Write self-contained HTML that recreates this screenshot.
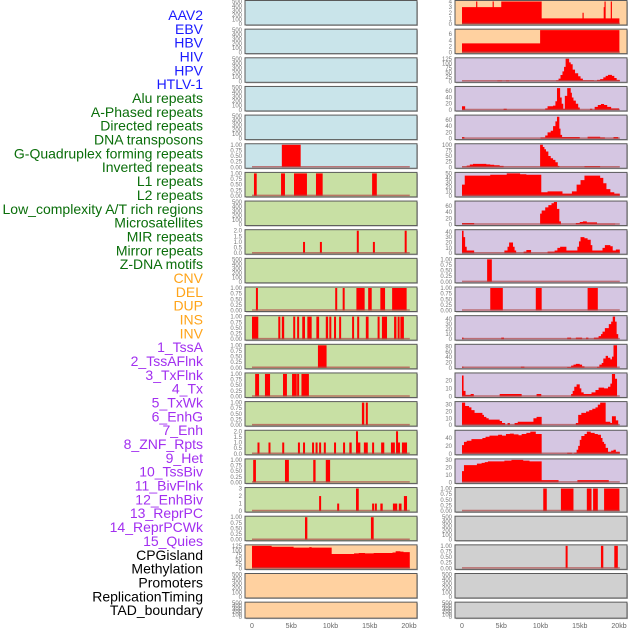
<!DOCTYPE html>
<html><head><meta charset="utf-8">
<style>
html,body{margin:0;padding:0;background:#fff;width:630px;height:630px;overflow:hidden}
svg{display:block;font-family:"Liberation Sans",sans-serif}
</style></head>
<body>
<svg id="chart" width="630" height="630" viewBox="0 0 630 630"></svg>
<script>
// ---------- data ----------
const trackLabels = ["AAV2","EBV","HBV","HIV","HPV","HTLV-1","Alu repeats","A-Phased repeats","Directed repeats","DNA transposons","G-Quadruplex forming repeats","Inverted repeats","L1 repeats","L2 repeats","Low_complexity A/T rich regions","Microsatellites","MIR repeats","Mirror repeats","Z-DNA motifs","CNV","DEL","DUP","INS","INV","1_TssA","2_TssAFlnk","3_TxFlnk","4_Tx","5_TxWk","6_EnhG","7_Enh","8_ZNF_Rpts","9_Het","10_TssBiv","11_BivFlnk","12_EnhBiv","13_ReprPC","14_ReprPCWk","15_Quies","CPGisland","Methylation","Promoters","ReplicationTiming","TAD_boundary"];
const trackGroups = [0,0,0,0,0,0,1,1,1,1,1,1,1,1,1,1,1,1,1,2,2,2,2,2,3,3,3,3,3,3,3,3,3,3,3,3,3,3,3,4,4,4,4,4];
const groupColors = ["#1a1aff","#0a6e0a","#ffa41a","#a22ff0","#000000"];

const xTicks = [0,5,10,15,20];
const xTickLabels = ["0","5kb","10kb","15kb","20kb"];

const T500 = [0,100,200,300,400,500];
const T1 = [0,0.25,0.5,0.75,1], T1L = ["0.00","0.25","0.50","0.75","1.00"];
const T2 = [0,0.5,1,1.5,2], T2L = ["0.0","0.5","1.0","1.5","2.0"];
const T3 = [0,1,2,3], T4 = [0,1,2,3,4], T6 = [0,2,4,6];
const T125 = [0,25,50,75,100,125], T60 = [0,20,40,60], T40a = [0,10,20,30,40];
const T50 = [0,10,20,30,40,50], T80 = [0,20,40,60,80], T20 = [0,10,20], T30 = [0,10,20,30], T40b = [0,20,40];

// bar segments: [startKb, endKb, value]
const segL6 = [[3.8,6.2,1]];
const segL7 = [[0.25,0.6,1],[3.7,4.2,1],[5.35,7.0,1],[8.15,9.0,1],[15.3,15.9,1]];
const segL9 = [[6.5,6.65,1],[8.65,8.8,1],[13.35,13.55,2],[15.4,15.55,1],[19.45,19.6,2]];
const segL11 = [[0.5,0.7,1],[10.6,10.75,1],[11.55,11.75,1],[13.3,14.35,1],[14.8,15.25,1],[16.35,16.95,1],[17.85,19.7,1]];
const segL12 = [[0,0.8,1],[3.35,3.55,1],[3.8,4.1,1],[5.25,5.5,1],[5.75,6.0,1],[6.4,6.75,1],[7.05,7.6,1],[8.2,8.55,1],[9.4,9.7,1],[9.85,10.05,1],[10.45,10.65,1],[11.1,11.35,1],[12.75,12.95,1],[13.4,13.65,1],[14.5,14.85,1],[16.0,16.25,1],[16.55,17.2,1],[18.1,18.4,1],[18.55,18.7,1],[18.9,19.35,1]];
const segL13 = [[8.4,9.5,1]];
const segL14 = [[0.4,0.9,1],[1.65,2.3,1],[3.95,4.45,1],[5.1,5.7,1],[5.75,6.0,1],[6.3,7.25,1]];
const segL15 = [[14.0,14.3,1],[14.5,14.75,1]];
const segL16 = [[0.7,0.95,1],[2.1,2.35,1],[3.85,4.1,1],[5.85,6.05,1],[6.5,6.75,1],[7.65,7.9,1],[8.1,8.35,1],[8.55,8.8,1],[9.15,9.4,1],[10.45,10.65,1],[11.6,11.85,1],[12.4,12.7,1],[13.25,13.45,2],[13.45,13.8,1],[14.25,14.75,1],[15.3,15.5,1],[16.45,16.85,1],[17.7,18.2,1],[18.35,18.5,2],[18.5,18.85,1],[19.1,19.75,1]];
const segL17 = [[0.15,0.5,1],[4.2,4.7,1],[7.8,8.1,1],[9.4,9.95,1]];
const segL18 = [[8.55,8.75,2],[10.85,11.05,1],[13.25,13.6,3],[15.3,15.5,1],[15.65,15.9,1],[16.35,16.65,1],[17.95,18.5,1],[18.7,19.05,1],[19.35,19.75,2]];
const segL19 = [[6.75,7.05,1],[15.15,15.5,1]];
const segR10 = [[3.2,3.8,1]];
const segR11 = [[3.6,5.2,1],[9.4,10.15,1],[16.0,17.3,1]];
const segR18 = [[10.35,10.8,1],[12.6,14.2,1],[15.9,16.5,1],[16.7,17.3,1],[18.1,20.05,1]];
const segR20 = [[13.2,13.45,1],[17.7,18.0,1],[19.4,19.85,1]];

// step profiles: [kb, value] constant until next kb
const stepL20 = [[0,125],[2.5,120],[5.3,115],[7.3,118],[7.6,115],[10.15,80],[13.0,83],[13.6,85],[14.4,83],[15.5,85],[17.9,88],[18.3,95],[18.9,93],[19.3,90],[20.1,0]];
const stepR1 = [[0,3],[1.8,4],[1.95,3],[3.9,4],[4.05,3],[5.0,4],[10.15,1],[15.35,2],[15.5,1],[18.05,3],[18.15,4],[18.3,1],[18.95,4],[19.1,1],[20.05,0]];
const stepR2 = [[0,3],[9.95,7.3],[20.05,0]];
const stepR3 = [[0,0],[4.5,4],[5.1,0],[5.6,4],[6.0,0],[12.0,5],[12.3,15],[12.55,35],[12.8,55],[13.0,80],[13.2,125],[13.65,105],[13.85,95],[14.1,65],[14.4,45],[14.8,28],[15.1,15],[15.4,5],[16.8,2],[17.2,8],[17.6,12],[18.0,22],[18.3,30],[18.6,36],[19.1,30],[19.4,18],[19.7,8],[20.1,0]];
const stepR4 = [[0,12],[0.4,0],[5.3,4],[5.7,0],[10.6,5],[10.9,12],[11.6,14],[11.9,28],[12.1,70],[12.5,40],[12.7,20],[12.9,4],[13.1,45],[13.4,70],[13.85,55],[14.0,40],[14.2,30],[14.5,20],[14.8,8],[15.0,0],[16.3,4],[16.6,0],[16.9,10],[17.3,16],[17.7,19],[18.1,16],[18.5,10],[19.0,5],[20.0,0]];
const stepR5 = [[0,5],[0.3,0],[10.0,4],[10.6,10],[10.9,20],[11.3,25],[11.6,40],[11.9,55],[12.1,70],[12.4,32],[12.55,12],[12.75,5],[15.0,0],[16.0,6],[17.6,4],[18.2,0],[19.3,5],[19.9,0]];
const stepR6 = [[0,3],[0.6,7],[1.0,12],[1.4,15],[3.1,13],[3.6,11],[4.1,9],[4.8,6],[5.3,0],[9.95,100],[10.3,90],[10.5,80],[10.7,70],[11.0,50],[11.3,40],[11.6,33],[11.9,22],[12.2,6],[12.4,0],[15.6,5],[17.6,0]];
const stepR7 = [[0,25],[0.35,45],[3.6,47],[5.7,50],[7.4,48],[8.2,47],[10.1,8],[10.9,10],[12.8,5],[14.0,10],[14.6,25],[15.1,35],[15.6,45],[17.6,40],[18.0,28],[18.4,15],[18.9,8],[19.4,5],[20.1,0]];
const stepR8 = [[0,5],[1.55,0],[9.95,35],[10.15,45],[10.6,55],[11.0,62],[11.4,68],[11.7,72],[12.1,50],[12.4,10],[12.6,0],[14.5,5],[15.0,8],[15.4,10],[15.9,7],[17.2,3],[19.5,0]];
const stepR9 = [[0,42],[0.2,30],[0.4,12],[0.6,5],[1.55,0],[5.4,5],[5.8,12],[6.0,20],[6.5,12],[6.7,5],[6.9,0],[7.85,3],[8.2,6],[8.8,0],[10.9,3],[11.8,5],[12.15,10],[12.5,12],[13.3,5],[14.7,12],[14.9,22],[15.1,30],[15.6,28],[16.0,25],[16.4,15],[16.6,5],[17.9,10],[18.2,15],[18.9,13],[19.2,5],[19.6,7],[20.1,0]];
const stepR12 = [[0,3],[0.2,0],[5.0,3],[5.35,0],[13.4,3],[13.9,0],[14.5,3],[15.3,0],[15.8,3],[16.1,0],[16.8,3],[17.4,6],[17.7,10],[17.9,15],[18.2,22],[18.7,30],[19.0,35],[19.2,45],[19.5,35],[19.7,10],[19.9,0]];
const stepR13 = [[0,5],[0.2,0],[7.5,5],[7.95,0],[13.4,3],[13.9,8],[14.2,12],[14.5,15],[15.0,12],[15.3,6],[15.6,0],[17.2,4],[17.5,12],[17.8,18],[18.0,35],[18.3,45],[18.6,38],[18.9,32],[19.1,42],[19.3,85],[19.75,0]];
const stepR14 = [[0,26],[0.2,7],[0.45,2],[1.1,3],[1.5,0],[4.8,3],[7.6,0],[9.5,3],[10.1,0],[13.9,3],[14.1,7],[14.3,12],[14.6,15],[15.0,10],[15.2,5],[15.5,3],[16.5,5],[17.0,8],[17.4,11],[18.1,10],[18.6,12],[18.9,16],[19.1,28],[19.5,22],[19.75,0]];
const stepR15 = [[0,33],[0.4,28],[0.9,26],[1.2,22],[1.6,18],[2.6,15],[2.8,12],[3.1,10],[3.4,8],[4.8,6],[5.1,3],[5.5,0],[5.8,3],[6.1,0],[6.7,3],[7.1,5],[9.1,10],[9.5,12],[10.15,0],[14.5,3],[14.8,15],[15.2,18],[15.8,20],[16.2,22],[16.6,24],[17.0,26],[17.3,30],[17.6,33],[18.3,5],[18.9,3],[19.1,13],[19.6,7],[19.9,0]];
const stepR16 = [[0,22],[0.25,30],[0.6,33],[1.2,37],[2.6,40],[3.0,43],[3.5,46],[4.6,48],[5.1,46],[5.6,50],[6.1,51],[6.6,49],[7.2,47],[7.6,50],[8.2,53],[8.7,56],[9.4,50],[10.15,0],[13.4,3],[14.0,0],[14.3,3],[14.6,10],[14.8,20],[15.0,35],[15.2,45],[15.6,50],[15.9,56],[16.4,53],[16.9,50],[17.3,48],[17.7,40],[17.9,30],[18.1,25],[18.3,15],[18.6,5],[19.0,8],[19.3,10],[19.6,5],[20.1,0]];
const stepR17 = [[0,15],[0.25,23],[1.9,25],[2.5,26],[2.9,27],[3.3,28],[5.4,29],[6.3,30],[7.8,29],[8.6,28],[10.15,3],[12.3,0],[14.7,3],[18.7,0]];

const BLUE="#c9e4ea", GREEN="#c8e0a4", PEACH="#ffd1a0", PURPLE="#d5c6e2", GRAY="#d0d0d0";
const leftPanels = [
 {bg:BLUE,max:500,t:T500},{bg:BLUE,max:500,t:T500},{bg:BLUE,max:500,t:T500},{bg:BLUE,max:500,t:T500},{bg:BLUE,max:500,t:T500},
 {bg:BLUE,max:1,t:T1,tl:T1L,seg:segL6},
 {bg:GREEN,max:1,t:T1,tl:T1L,seg:segL7},
 {bg:GREEN,max:500,t:T500},
 {bg:GREEN,max:2,t:T2,tl:T2L,seg:segL9},
 {bg:GREEN,max:500,t:T500},
 {bg:GREEN,max:1,t:T1,tl:T1L,seg:segL11},
 {bg:GREEN,max:1,t:T1,tl:T1L,seg:segL12},
 {bg:GREEN,max:1,t:T1,tl:T1L,seg:segL13},
 {bg:GREEN,max:1,t:T1,tl:T1L,seg:segL14},
 {bg:GREEN,max:1,t:T1,tl:T1L,seg:segL15},
 {bg:GREEN,max:2,t:T2,tl:T2L,seg:segL16},
 {bg:GREEN,max:1,t:T1,tl:T1L,seg:segL17},
 {bg:GREEN,max:3,t:T3,seg:segL18},
 {bg:GREEN,max:1,t:T1,tl:T1L,seg:segL19},
 {bg:PEACH,max:125,t:T125,step:stepL20},
 {bg:PEACH,max:500,t:T500},
 {bg:PEACH,max:500,t:T500}
];
const rightPanels = [
 {bg:PEACH,max:4,t:T4,step:stepR1},
 {bg:PEACH,max:7.3,t:T6,step:stepR2},
 {bg:PURPLE,max:125,t:T125,step:stepR3},
 {bg:PURPLE,max:72,t:T60,step:stepR4},
 {bg:PURPLE,max:72,t:T60,step:stepR5},
 {bg:PURPLE,max:100,t:[0,25,50,75,100],step:stepR6},
 {bg:PURPLE,max:50,t:T50,step:stepR7},
 {bg:PURPLE,max:72,t:T60,step:stepR8},
 {bg:PURPLE,max:42,t:T40a,step:stepR9},
 {bg:PURPLE,max:1,t:T1,tl:T1L,seg:segR10},
 {bg:PURPLE,max:1,t:T1,tl:T1L,seg:segR11},
 {bg:PURPLE,max:45,t:T40a,step:stepR12},
 {bg:PURPLE,max:85,t:T80,step:stepR13},
 {bg:PURPLE,max:28,t:T20,step:stepR14},
 {bg:PURPLE,max:33,t:T30,step:stepR15},
 {bg:PURPLE,max:57,t:T40b,step:stepR16},
 {bg:PURPLE,max:30,t:T30,step:stepR17},
 {bg:GRAY,max:1,t:T1,tl:T1L,seg:segR18},
 {bg:GRAY,max:500,t:T500},
 {bg:GRAY,max:1,t:T1,tl:T1L,seg:segR20},
 {bg:GRAY,max:500,t:T500},
 {bg:GRAY,max:500,t:T500}
];

// ---------- drawing ----------
const NS="http://www.w3.org/2000/svg";
const svg=document.getElementById("chart");
function mk(tag,attrs,parent){const e=document.createElementNS(NS,tag);for(const k in attrs)e.setAttribute(k,attrs[k]);(parent||svg).appendChild(e);return e;}

const colX=[245,455], panelW=172, pitch=28.65;
function panelTop(i){return i*pitch+0.5;}
function panelH(i){return i<21?24.5:16;}
function xScale(col,kb){return colX[col]+7+kb*7.85;}
function yScale(i,max,v){const t=panelTop(i)+1,b=panelTop(i)+panelH(i)-1;return b-(v/max)*(b-t);}

// labels
trackLabels.forEach((lab,k)=>{
  const t=mk("text",{x:203,y:15+k*13.84+5,"text-anchor":"end","font-size":"14",fill:groupColors[trackGroups[k]]});
  
  
  t.textContent=lab;
});

function drawPanel(col,i,p){
  const g=mk("g",{});
  
  
  const top=panelTop(i),h=panelH(i),x0=colX[col];
  mk("rect",{x:x0+1,y:top+1,width:panelW,height:h,fill:"#bbb"},g);
  mk("rect",{x:x0,y:top,width:panelW,height:h,fill:p.bg,stroke:"#5a5a5a","stroke-width":1},g);
  const bottom=top+h-1;
  if(p.seg){
    p.seg.forEach(s=>{
      const y=yScale(i,p.max,s[2]);
      const r=mk("rect",{x:xScale(col,s[0]),y:y,width:Math.max(2,xScale(col,s[1])-xScale(col,s[0])),height:bottom-y,fill:"#ff0000"},g);
      
      
    });
  }
  if(p.step){
    let d="M"+xScale(col,p.step[0][0])+","+bottom;
    for(let k=0;k<p.step.length-1;k++){
      const y=yScale(i,p.max,p.step[k][1]);
      d+=" L"+xScale(col,p.step[k][0])+","+y+" L"+xScale(col,p.step[k+1][0])+","+y;
    }
    d+=" L"+xScale(col,p.step[p.step.length-1][0])+","+bottom+" Z";
    const a=mk("path",{d:d,fill:"#ff0000"},g);
    
    
  }
  if(p.seg||p.step){
    mk("line",{x1:xScale(col,0),x2:xScale(col,20.1),y1:bottom-0.5,y2:bottom-0.5,stroke:"#b04848","stroke-width":1.5,"stroke-opacity":0.7},g);
  }
  p.t.forEach((v,k)=>{
    const tx=mk("text",{x:x0-3,y:yScale(i,p.max,v)+2,"text-anchor":"end","font-size":"6",fill:"#777"},g);
    
    
    tx.textContent=p.tl?p.tl[k]:String(v);
  });
}
leftPanels.forEach((p,i)=>drawPanel(0,i,p));
rightPanels.forEach((p,i)=>drawPanel(1,i,p));

[0,1].forEach(col=>{
  xTicks.forEach((v,k)=>{
    const t=mk("text",{x:xScale(col,v),y:628,"text-anchor":"middle","font-size":"7",fill:"#666"});
    
    
    t.textContent=xTickLabels[k];
  });
});
</script>
</body></html>
